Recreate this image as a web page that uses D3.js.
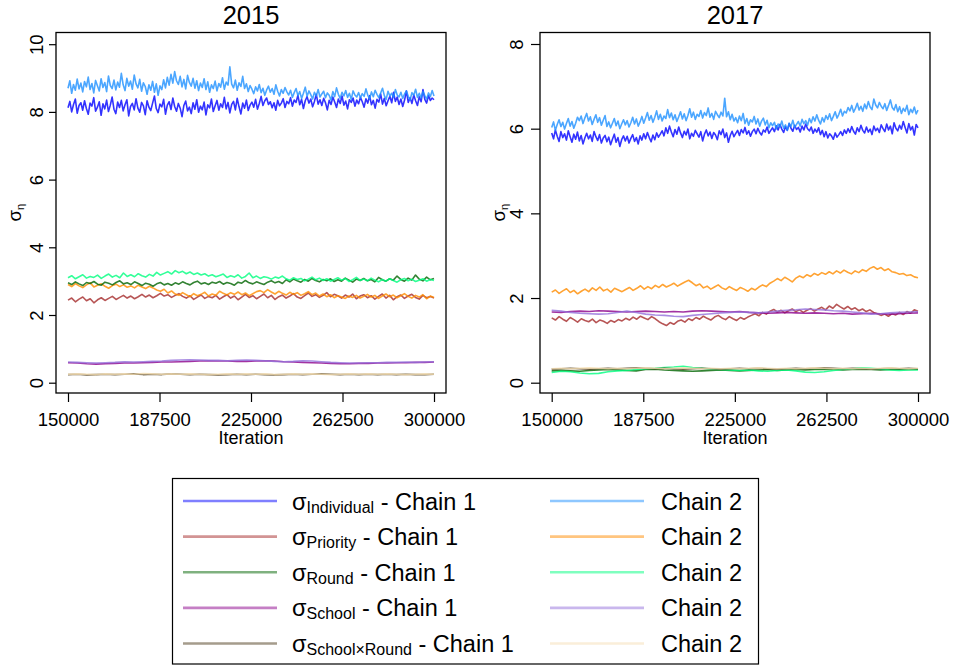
<!DOCTYPE html>
<html>
<head>
<meta charset="utf-8">
<script src="https://cdn.jsdelivr.net/npm/d3@7"></script>
<style>
  body { margin: 0; background: #fff; }
  text { font-family: "Liberation Sans", Arial, Helvetica, sans-serif; fill: #000; }
</style>
</head>
<body>
<script>
// MCMC trace plots of the random-effect standard deviations, two chains per parameter.
const iterStart = 150000, iterEnd = 300000;
const xTicks = [150000, 187500, 225000, 262500, 300000];
const years = ["2015", "2017"];
const yTicks2015 = [0, 2, 4, 6, 8, 10];
const yTicks2017 = [0, 2, 4, 6, 8];

const params = ["Individual", "Priority", "Round", "School", "School\u00d7Round"];
const chain1Colors = ["#0000FF", "#A52A2A", "#006400", "#8B008B", "#4B3A1A"];
const chain2Colors = ["#1E90FF", "#FF8C00", "#00FF7F", "#9370DB", "#F5DEB3"];

// ---- 2015 draws ----
const ind1_2015 = [8.12,8.31,8.00,8.22,8.38,7.96,8.19,8.27,8.05,8.33,8.10,7.93,8.26,8.17,8.42,8.02,8.14,8.30,7.90,8.24,
8.09,8.35,8.01,8.20,8.44,8.08,7.95,8.29,8.13,8.34,8.03,8.21,8.36,7.88,8.16,8.25,8.06,8.39,8.11,7.99,
8.28,8.18,7.92,8.33,8.14,8.04,8.26,8.47,8.10,7.98,8.23,8.15,8.37,7.93,8.20,8.30,8.07,8.41,8.16,8.02,
8.25,8.11,7.86,8.19,8.32,8.03,8.14,7.95,8.27,8.08,8.36,7.99,8.17,8.06,8.29,7.91,8.21,8.12,8.38,8.01,
8.18,8.34,8.05,8.24,8.13,8.43,8.09,8.28,7.97,8.22,8.31,8.06,8.40,8.15,7.94,8.26,8.11,8.35,8.04,8.20,
8.29,8.14,8.37,8.08,8.25,8.46,8.19,8.33,8.41,8.22,8.30,8.12,8.27,8.05,8.34,8.18,8.26,8.39,8.13,8.31,
8.24,8.42,8.17,8.35,8.28,8.49,8.21,8.37,8.10,8.33,8.45,8.26,8.38,8.15,8.31,8.52,8.23,8.36,8.19,8.40,
8.27,8.06,8.34,8.22,8.44,8.29,8.13,8.38,8.25,8.47,8.20,8.32,8.09,8.36,8.28,8.41,8.17,8.35,8.24,8.43,
8.30,8.14,8.39,8.26,8.48,8.21,8.34,8.11,8.37,8.29,8.53,8.23,8.40,8.18,8.33,8.46,8.27,8.58,8.31,8.44,
8.22,8.38,8.16,8.35,8.62,8.28,8.42,8.25,8.50,8.33,8.19,8.45,8.30,8.66,8.37,8.26,8.48,8.34,8.41,8.36];
const ind2_2015 = [8.70,8.92,8.55,8.81,8.64,8.97,8.68,8.85,8.59,8.90,8.74,9.03,8.66,8.84,8.56,8.93,8.77,8.62,8.98,8.72,
8.87,8.60,9.06,8.78,8.69,8.94,8.65,8.88,8.73,9.14,8.80,8.63,8.99,8.76,8.91,8.67,9.09,8.83,8.71,8.96,
8.61,8.86,8.75,8.52,8.80,8.64,8.90,8.58,8.83,8.49,8.77,8.66,8.95,8.71,9.02,8.79,9.11,8.85,9.19,8.92,
8.81,9.05,8.74,8.96,8.68,9.08,8.87,8.76,8.99,8.70,8.92,8.63,8.85,8.72,8.98,8.66,8.89,8.58,8.80,8.69,
8.91,8.62,8.84,8.73,9.01,8.67,8.88,8.79,9.33,8.82,8.71,8.94,8.64,8.86,8.75,9.05,8.69,8.83,8.60,8.78,
8.67,8.54,8.74,8.62,8.81,8.57,8.70,8.49,8.65,8.76,8.58,8.69,8.52,8.80,8.61,8.47,8.66,8.55,8.72,8.59,
8.50,8.64,8.43,8.57,8.69,8.48,8.60,8.40,8.55,8.73,8.46,8.62,8.51,8.38,8.58,8.47,8.66,8.44,8.53,8.61,
8.42,8.56,8.49,8.35,8.60,8.45,8.71,8.52,8.40,8.58,8.47,8.63,8.43,8.55,8.37,8.62,8.50,8.44,8.57,8.41,
8.54,8.46,8.68,8.49,8.39,8.59,8.45,8.64,8.52,8.42,8.56,8.70,8.48,8.37,8.61,8.47,8.55,8.43,8.66,8.50,
8.44,8.58,8.40,8.53,8.62,8.46,8.35,8.57,8.49,8.67,8.43,8.55,8.41,8.60,8.48,8.38,8.56,8.45,8.63,8.47];
const pri1_2015 = [2.44,2.50,2.39,2.47,2.53,2.42,2.48,2.36,2.45,2.51,2.43,2.49,2.55,2.46,2.52,2.58,2.50,2.56,2.48,2.54,
2.61,2.53,2.59,2.51,2.57,2.64,2.56,2.60,2.52,2.58,2.63,2.55,2.50,2.57,2.46,2.53,2.59,2.49,2.55,2.51,
2.58,2.47,2.54,2.60,2.50,2.56,2.45,2.53,2.61,2.52,2.57,2.48,2.55,2.62,2.51,2.58,2.46,2.54,2.59,2.50,
2.56,2.63,2.53,2.49,2.57,2.65,2.55,2.60,2.52,2.58,2.66,2.54,2.61,2.57,2.50,2.59,2.53,2.62,2.48,2.56,
2.60,2.51,2.57,2.47,2.55,2.62,2.50,2.58,2.45,2.54,2.59,2.49,2.56,2.61,2.52,2.47,2.58,2.51,2.55,2.50];
const pri2_2015 = [2.90,2.84,2.93,2.86,2.81,2.89,2.95,2.83,2.88,2.92,2.85,2.79,2.87,2.91,2.84,2.89,2.82,2.86,2.80,2.88,
2.83,2.78,2.85,2.80,2.74,2.70,2.76,2.65,2.71,2.62,2.58,2.66,2.60,2.54,2.63,2.57,2.61,2.67,2.56,2.62,
2.58,2.70,2.64,2.59,2.66,2.61,2.68,2.60,2.65,2.57,2.63,2.69,2.72,2.66,2.75,2.68,2.62,2.70,2.64,2.59,
2.67,2.61,2.66,2.58,2.63,2.69,2.60,2.65,2.56,2.62,2.54,2.60,2.51,2.57,2.53,2.49,2.56,2.52,2.58,2.50,
2.55,2.61,2.53,2.58,2.49,2.56,2.62,2.54,2.59,2.51,2.57,2.63,2.55,2.50,2.58,2.53,2.60,2.48,2.56,2.52];
const round1_2015 = [2.95,2.90,2.98,2.92,2.87,2.96,2.93,2.99,2.91,2.88,2.97,2.94,2.89,2.96,3.01,2.92,2.95,2.90,2.98,2.93,
2.87,2.94,2.91,2.85,2.92,2.96,2.89,2.93,2.88,2.95,2.91,2.98,2.93,2.89,2.96,3.00,2.92,2.95,2.90,2.97,
2.94,2.99,2.91,2.96,2.93,2.88,2.97,2.94,3.02,2.95,2.92,2.98,2.94,2.90,2.97,3.01,2.95,2.99,2.93,3.04,
2.98,3.06,3.01,2.97,3.05,3.00,3.08,3.02,2.98,3.05,3.01,3.07,2.99,3.04,3.00,3.09,3.03,2.97,3.06,3.02,
3.08,3.01,3.05,2.98,3.11,3.04,3.00,3.07,3.03,3.15,3.05,3.00,3.09,3.03,3.18,3.06,3.01,3.12,3.04,3.08];
const round2_2015 = [3.10,3.16,3.07,3.13,3.19,3.09,3.14,3.11,3.18,3.08,3.15,3.21,3.12,3.17,3.10,3.24,3.14,3.19,3.13,3.22,
3.16,3.12,3.20,3.15,3.26,3.18,3.23,3.28,3.21,3.31,3.25,3.29,3.22,3.27,3.20,3.24,3.18,3.22,3.15,3.19,
3.13,3.17,3.21,3.11,3.16,3.12,3.19,3.09,3.14,3.24,3.10,3.15,3.08,3.13,3.11,3.06,3.12,3.09,3.15,3.07,
3.03,3.10,3.05,3.08,3.01,3.06,3.12,3.04,3.09,3.02,3.07,3.00,3.05,3.10,3.03,3.08,2.99,3.04,3.11,3.02,
3.06,3.01,3.09,3.03,2.98,3.05,3.00,3.07,3.02,2.97,3.04,3.08,3.01,3.06,2.99,3.03,3.07,3.00,3.05,3.02];
const school1_2015 = [0.59,0.58,0.56,0.55,0.56,0.57,0.58,0.58,0.59,0.60,0.61,0.61,0.62,0.63,0.64,0.65,0.64,0.64,0.63,0.63,
0.64,0.65,0.64,0.62,0.61,0.60,0.59,0.58,0.57,0.56,0.56,0.57,0.57,0.58,0.58,0.59,0.59,0.60,0.60,0.61];
const school2_2015 = [0.61,0.60,0.59,0.58,0.59,0.60,0.62,0.61,0.62,0.63,0.64,0.66,0.67,0.68,0.67,0.66,0.66,0.65,0.66,0.67,
0.66,0.65,0.63,0.62,0.63,0.65,0.64,0.62,0.60,0.59,0.58,0.58,0.59,0.59,0.60,0.60,0.61,0.60,0.61,0.62];
const sxr1_2015 = [0.24,0.25,0.23,0.24,0.25,0.24,0.25,0.26,0.24,0.25,0.24,0.26,0.25,0.24,0.25,0.24,0.23,0.24,0.25,0.24,
0.25,0.24,0.23,0.24,0.25,0.24,0.25,0.26,0.25,0.24,0.25,0.24,0.25,0.24,0.25,0.24,0.25,0.24,0.24,0.25];
const sxr2_2015 = [0.25,0.26,0.25,0.24,0.26,0.25,0.26,0.25,0.27,0.26,0.25,0.26,0.25,0.26,0.25,0.24,0.25,0.26,0.25,0.26,
0.25,0.26,0.24,0.25,0.26,0.25,0.26,0.25,0.24,0.25,0.26,0.25,0.26,0.25,0.26,0.25,0.24,0.25,0.26,0.25];

// ---- 2017 draws ----
const ind1_2017 = [5.90,5.76,5.97,5.82,5.70,5.93,5.79,5.88,5.73,5.95,5.81,5.68,5.87,5.75,5.92,5.71,5.84,5.64,5.78,5.89,
5.76,5.85,5.70,5.93,5.81,5.72,5.86,5.66,5.78,5.84,5.69,5.80,5.62,5.75,5.87,5.68,5.79,5.58,5.74,5.83,
5.71,5.82,5.66,5.77,5.86,5.70,5.79,5.64,5.83,5.73,5.88,5.76,5.91,5.79,5.69,5.85,5.74,5.90,5.80,5.87,
5.95,5.83,6.02,5.89,6.06,5.92,5.81,5.98,5.87,6.04,5.90,5.79,5.94,5.85,5.99,5.76,5.89,5.82,5.96,5.88,
5.80,5.93,5.71,5.87,5.97,5.83,5.92,5.77,5.91,5.85,5.74,5.95,5.86,5.99,5.79,5.90,5.68,5.84,5.94,5.81,
5.89,5.96,5.84,5.98,5.90,6.03,5.87,5.95,5.82,5.93,5.99,5.88,6.01,5.91,5.85,5.97,5.92,6.04,5.89,5.96,
6.02,5.93,6.07,5.97,6.10,5.99,5.91,6.05,5.96,6.12,6.01,5.94,6.08,5.98,6.03,5.92,6.06,5.97,6.11,6.00,
5.95,6.04,5.89,5.99,5.92,6.02,5.86,5.96,5.81,5.93,5.78,5.88,5.83,5.75,5.90,5.80,5.86,5.93,5.84,5.97,
5.89,6.00,5.91,6.05,5.94,5.87,6.02,5.93,6.08,5.96,5.90,6.04,5.92,5.99,5.86,6.06,5.95,6.01,5.91,6.09,
6.00,5.93,6.11,5.97,6.06,5.88,6.14,6.01,5.95,6.08,5.99,6.17,6.03,5.90,6.12,5.97,6.05,5.85,6.10,6.02];
const ind2_2017 = [6.03,6.16,5.96,6.10,6.21,6.05,6.15,5.99,6.12,6.24,6.06,6.17,6.01,6.13,6.27,6.19,6.30,6.12,6.25,6.36,
6.18,6.28,6.10,6.22,6.33,6.15,6.26,6.08,6.20,6.31,6.05,6.16,6.02,6.13,6.24,6.07,6.18,6.00,6.11,6.21,
6.09,6.19,6.04,6.14,6.27,6.11,6.23,6.06,6.16,6.29,6.13,6.25,6.38,6.20,6.31,6.15,6.27,6.42,6.22,6.34,
6.18,6.30,6.24,6.45,6.26,6.37,6.21,6.33,6.17,6.28,6.40,6.23,6.35,6.19,6.31,6.47,6.27,6.39,6.22,6.34,
6.29,6.43,6.25,6.38,6.31,6.49,6.27,6.36,6.22,6.41,6.33,6.26,6.39,6.30,6.72,6.28,6.40,6.21,6.34,6.18,
6.26,6.14,6.30,6.19,6.36,6.12,6.24,6.08,6.21,6.16,6.29,6.11,6.23,6.06,6.18,6.25,6.09,6.20,6.02,6.14,
6.07,6.15,5.99,6.11,6.04,6.18,6.01,6.09,5.96,6.13,6.05,6.20,6.03,6.10,6.17,6.06,6.22,6.12,6.19,6.08,
6.24,6.14,6.28,6.18,6.33,6.20,6.11,6.26,6.16,6.31,6.22,6.35,6.19,6.29,6.40,6.25,6.34,6.46,6.30,6.41,
6.37,6.50,6.42,6.55,6.39,6.48,6.60,6.44,6.53,6.41,6.58,6.47,6.64,6.51,6.45,6.70,6.56,6.49,6.62,6.53,
6.47,6.59,6.43,6.55,6.68,6.50,6.44,6.57,6.40,6.52,6.36,6.48,6.41,6.55,6.33,6.46,6.38,6.51,6.35,6.44];
const pri1_2017 = [1.53,1.48,1.56,1.50,1.45,1.54,1.49,1.43,1.51,1.47,1.44,1.50,1.42,1.48,1.45,1.40,1.47,1.43,1.49,1.46,
1.52,1.48,1.55,1.50,1.57,1.53,1.49,1.56,1.51,1.44,1.39,1.35,1.42,1.38,1.45,1.48,1.43,1.51,1.47,1.54,
1.50,1.57,1.52,1.48,1.55,1.59,1.53,1.49,1.56,1.51,1.47,1.54,1.50,1.55,1.59,1.63,1.58,1.66,1.62,1.69,
1.73,1.67,1.71,1.65,1.70,1.74,1.68,1.72,1.66,1.71,1.75,1.69,1.74,1.78,1.72,1.81,1.76,1.85,1.79,1.74,
1.80,1.73,1.77,1.70,1.74,1.68,1.72,1.66,1.63,1.59,1.62,1.57,1.63,1.60,1.66,1.61,1.68,1.64,1.72,1.69];
const pri2_2017 = [2.14,2.19,2.11,2.17,2.22,2.13,2.18,2.10,2.16,2.21,2.15,2.24,2.18,2.26,2.17,2.21,2.14,2.23,2.19,2.15,
2.20,2.25,2.18,2.23,2.29,2.21,2.27,2.22,2.30,2.25,2.32,2.26,2.30,2.35,2.28,2.33,2.38,2.42,2.36,2.29,
2.33,2.24,2.28,2.21,2.26,2.31,2.24,2.20,2.27,2.22,2.18,2.25,2.21,2.16,2.23,2.19,2.26,2.31,2.27,2.35,
2.40,2.46,2.41,2.49,2.44,2.38,2.47,2.52,2.48,2.55,2.51,2.58,2.54,2.60,2.56,2.62,2.57,2.64,2.59,2.66,
2.61,2.57,2.64,2.60,2.67,2.63,2.70,2.74,2.68,2.72,2.65,2.69,2.62,2.60,2.56,2.58,2.53,2.55,2.50,2.48];
const round1_2017 = [0.28,0.29,0.28,0.27,0.29,0.30,0.31,0.30,0.29,0.28,0.31,0.32,0.30,0.29,0.28,0.27,0.28,0.29,0.30,0.29,
0.28,0.29,0.30,0.31,0.29,0.30,0.31,0.30,0.31,0.32,0.31,0.30,0.31,0.32,0.31,0.30,0.31,0.32,0.31,0.32];
const round2_2017 = [0.24,0.27,0.26,0.23,0.21,0.22,0.26,0.28,0.29,0.31,0.33,0.34,0.36,0.37,0.39,0.36,0.34,0.32,0.31,0.30,
0.29,0.30,0.28,0.27,0.29,0.30,0.28,0.25,0.24,0.26,0.29,0.31,0.33,0.35,0.34,0.32,0.30,0.29,0.30,0.30];
const school1_2017 = [1.67,1.66,1.68,1.69,1.68,1.70,1.69,1.68,1.67,1.68,1.69,1.68,1.67,1.68,1.67,1.69,1.70,1.69,1.68,1.67,
1.68,1.66,1.65,1.64,1.65,1.66,1.65,1.64,1.65,1.64,1.63,1.64,1.62,1.63,1.64,1.63,1.62,1.63,1.64,1.65];
const school2_2017 = [1.71,1.69,1.66,1.64,1.63,1.62,1.63,1.66,1.69,1.66,1.62,1.60,1.59,1.57,1.56,1.59,1.61,1.63,1.65,1.66,
1.67,1.66,1.65,1.67,1.69,1.71,1.72,1.74,1.73,1.72,1.70,1.69,1.67,1.65,1.62,1.63,1.65,1.66,1.67,1.68];
const sxr1_2017 = [0.32,0.33,0.34,0.33,0.32,0.33,0.34,0.33,0.34,0.35,0.34,0.33,0.34,0.33,0.32,0.33,0.34,0.33,0.32,0.33,
0.34,0.33,0.34,0.33,0.32,0.33,0.34,0.33,0.34,0.35,0.34,0.33,0.34,0.33,0.32,0.33,0.34,0.33,0.34,0.33];
const sxr2_2017 = [0.33,0.34,0.33,0.34,0.35,0.34,0.33,0.34,0.33,0.34,0.35,0.34,0.33,0.34,0.35,0.34,0.33,0.34,0.33,0.34,
0.33,0.34,0.35,0.34,0.33,0.34,0.33,0.34,0.35,0.34,0.33,0.34,0.33,0.34,0.33,0.34,0.35,0.34,0.33,0.34];

const chains2015 = [[ind1_2015, ind2_2015], [pri1_2015, pri2_2015], [round1_2015, round2_2015],
                    [school1_2015, school2_2015], [sxr1_2015, sxr2_2015]];
const chains2017 = [[ind1_2017, ind2_2017], [pri1_2017, pri2_2017], [round1_2017, round2_2017],
                    [school1_2017, school2_2017], [sxr1_2017, sxr2_2017]];

const W = 954, H = 666;
const svg = d3.select("body").append("svg").attr("width", W).attr("height", H);

const panels = [
  { title: years[0], chains: chains2015, yTicks: yTicks2015, yMax: 10,
    box: [56, 446, 32.5, 393], xr: [68, 434], yr: [382.7, 44.2], tick: 7, lab: 13, ylabX: 21 },
  { title: years[1], chains: chains2017, yTicks: yTicks2017, yMax: 8,
    box: [540, 930, 32.5, 393], xr: [551.7, 918], yr: [382.7, 44], tick: 9, lab: 17, ylabX: 505 }
];

panels.forEach(p => {
  const g = svg.append("g");
  const x = d3.scaleLinear().domain([iterStart, iterEnd]).range(p.xr);
  const y = d3.scaleLinear().domain([0, p.yMax]).range(p.yr);

  // trace lines: chain 1 then chain 2 for every parameter
  p.chains.forEach((pair, k) => {
    pair.forEach((vals, c) => {
      const iter = d3.scaleLinear().domain([0, vals.length - 1]).range([iterStart, iterEnd]);
      const line = d3.line().x((d, i) => x(iter(i))).y(d => y(d));
      g.append("path").datum(vals)
        .attr("d", line)
        .attr("fill", "none")
        .attr("stroke", c === 0 ? chain1Colors[k] : chain2Colors[k])
        .attr("stroke-opacity", 0.8)
        .attr("stroke-width", 1.6)
        .attr("stroke-linejoin", "round");
    });
  });

  // frame
  g.append("rect")
    .attr("x", p.box[0]).attr("y", p.box[2])
    .attr("width", p.box[1] - p.box[0]).attr("height", p.box[3] - p.box[2])
    .attr("fill", "none").attr("stroke", "#000").attr("stroke-width", 1.3);

  // y axis with labels parallel to the axis
  const ya = g.append("g").attr("transform", `translate(${p.box[0]},0)`)
    .call(d3.axisLeft(y).tickValues(p.yTicks).tickSize(p.tick).tickSizeOuter(0).tickFormat(d3.format("d")));
  ya.select(".domain").remove();
  ya.selectAll("line").attr("stroke", "#000").attr("stroke-width", 1.2);
  ya.selectAll("text")
    .attr("x", 0).attr("y", -p.lab).attr("dy", 0)
    .attr("transform", "rotate(-90)")
    .attr("text-anchor", "middle")
    .style("font-size", "18.5px")
    .style("font-family", "'Liberation Sans', Arial, sans-serif");

  // x axis
  const xa = g.append("g").attr("transform", `translate(0,${p.box[3]})`)
    .call(d3.axisBottom(x).tickValues(xTicks).tickSize(9).tickSizeOuter(0).tickFormat(d3.format("d")));
  xa.select(".domain").remove();
  xa.selectAll("line").attr("stroke", "#000").attr("stroke-width", 1.2);
  xa.selectAll("text")
    .attr("y", 32.5).attr("dy", 0)
    .style("font-size", "18.5px")
    .style("font-family", "'Liberation Sans', Arial, sans-serif");

  const cx = (p.box[0] + p.box[1]) / 2;
  g.append("text").attr("x", cx).attr("y", 444).attr("text-anchor", "middle")
    .style("font-size", "18px").text("Iteration");

  g.append("text").attr("x", cx).attr("y", 24).attr("text-anchor", "middle")
    .style("font-size", "25.5px").text(p.title);

  // y-axis title: sigma with subscript eta
  const yl = g.append("text")
    .attr("transform", `translate(${p.ylabX},${(p.box[2] + p.box[3]) / 2}) rotate(-90)`)
    .attr("text-anchor", "middle").style("font-size", "18.5px");
  yl.append("tspan").text("\u03c3");
  yl.append("tspan").attr("dy", 3).style("font-size", "11px").text("\u03b7");
});

// legend
const leg = svg.append("g");
leg.append("rect").attr("x", 172.5).attr("y", 478.5).attr("width", 586).attr("height", 185.5)
  .attr("fill", "none").attr("stroke", "#000").attr("stroke-width", 1.2);

const rowY = d3.scaleLinear().domain([0, params.length - 1]).range([501, 643.5]);
params.forEach((name, k) => {
  const yy = rowY(k);
  leg.append("line").attr("x1", 183).attr("x2", 277).attr("y1", yy).attr("y2", yy)
    .attr("stroke", chain1Colors[k]).attr("stroke-opacity", 0.5).attr("stroke-width", 2.6);
  leg.append("line").attr("x1", 550).attr("x2", 644).attr("y1", yy).attr("y2", yy)
    .attr("stroke", chain2Colors[k]).attr("stroke-opacity", 0.5).attr("stroke-width", 2.6);

  const t = leg.append("text").attr("x", 292).attr("y", yy + 8.5).style("font-size", "23.5px");
  t.append("tspan").text("\u03c3");
  t.append("tspan").attr("dy", 3).style("font-size", "16px").text(name);
  t.append("tspan").attr("dy", -3).text(" - Chain 1");

  leg.append("text").attr("x", 661).attr("y", yy + 8.5).style("font-size", "23.5px").text("Chain 2");
});
</script>
</body>
</html>
